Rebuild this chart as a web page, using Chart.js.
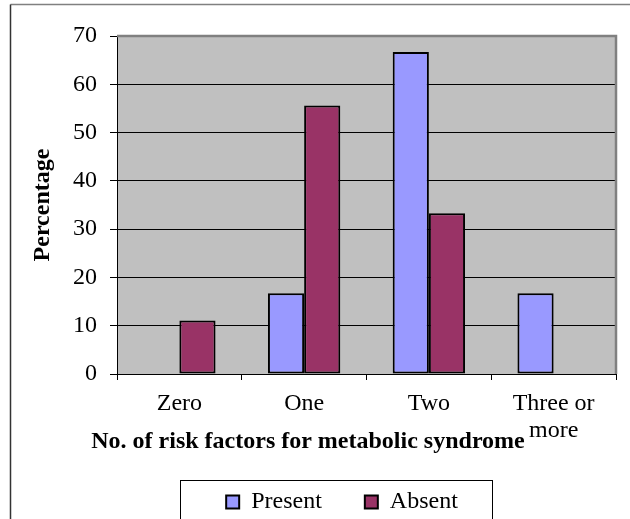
<!DOCTYPE html>
<html>
<head>
<meta charset="utf-8">
<script src="https://cdn.jsdelivr.net/npm/chart.js@4.4.1/dist/chart.umd.min.js"></script>
<style>
  html, body { margin: 0; padding: 0; background: #fff; }
  #wrap { width: 630px; height: 519px; }
</style>
</head>
<body>
<div id="wrap"><canvas id="riskChart" width="630" height="519"></canvas></div>
<script>
const categories = ['Zero', 'One', 'Two', ['Three or', 'more']];
const presentValues = [null, 16.7, 66.7, 16.7];
const absentValues = [11.1, 55.6, 33.3, null];
const yTicks = { min: 0, max: 70, step: 10 };

const serif = "'Liberation Serif', 'Times New Roman', serif";

// grey plot background, frame and the box round the legend
const decor = {
    id: 'decor',
    beforeDraw(chart) {
        const { ctx, chartArea: a } = chart;
        ctx.save();
        ctx.fillStyle = '#c0c0c0';
        ctx.fillRect(a.left, a.top, a.right - a.left, a.bottom - a.top);
        // outer frame (left + top visible)
        ctx.strokeStyle = '#808080';
        ctx.lineWidth = 1.5;
        ctx.beginPath();
        ctx.moveTo(630, 4.5);
        ctx.lineTo(10.5, 4.5);
        ctx.stroke();
        ctx.strokeStyle = '#333';
        ctx.beginPath();
        ctx.moveTo(10.5, 4.5);
        ctx.lineTo(10.5, 519);
        ctx.stroke();
        ctx.restore();
    },
    afterDatasetsDraw(chart) {
        const { ctx, chartArea: a } = chart;
        ctx.save();
        ctx.strokeStyle = '#808080';
        ctx.lineWidth = 2.5;
        ctx.beginPath();
        ctx.moveTo(a.left, a.top);
        ctx.lineTo(a.right, a.top);
        ctx.lineTo(a.right, a.bottom);
        ctx.stroke();
        ctx.restore();
    },
    afterLayout(chart) {
        // legend sits a bit right of the canvas centre in the original
        chart.legend.left += 34;
        chart.legend.right += 34;
    },
    afterDraw(chart) {
        const boxes = chart.legend.legendHitBoxes;
        if (!boxes || !boxes.length) return;
        const first = boxes[0], last = boxes[boxes.length - 1];
        const ctx = chart.ctx;
        ctx.save();
        ctx.strokeStyle = '#000';
        ctx.lineWidth = 1;
        const x0 = Math.round(first.left - 46) + 0.5;
        const x1 = Math.round(last.left + last.width + 34) + 0.5;
        const y0 = Math.round(first.top - 10) + 0.5;
        ctx.strokeRect(x0, y0, x1 - x0, 60);
        ctx.restore();
    }
};

new Chart(document.getElementById('riskChart'), {
    type: 'bar',
    data: {
        labels: categories,
        datasets: [{
            label: 'Present',
            data: presentValues,
            backgroundColor: '#9999ff',
            borderColor: '#000',
            borderWidth: 2,
            borderSkipped: false
        }, {
            label: 'Absent',
            data: absentValues,
            backgroundColor: '#993366',
            borderColor: '#000',
            borderWidth: 2,
            borderSkipped: false
        }]
    },
    options: {
        responsive: false,
        animation: false,
        layout: { padding: { top: 36, right: 14, left: 0, bottom: -5 } },
        datasets: { bar: { categoryPercentage: 0.58, barPercentage: 1 } },
        plugins: {
            tooltip: { enabled: false },
            title: {
                display: true,
                position: 'bottom',
                weight: 500,
                text: 'No. of risk factors for metabolic syndrome',
                color: '#000',
                font: { family: serif, size: 24, weight: 'bold', lineHeight: 1.2 },
                padding: { top: -18.4, bottom: -9.4 }
            },
            legend: {
                position: 'bottom',
                labels: {
                    color: '#000',
                    font: { family: serif, size: 24 },
                    boxWidth: 13,
                    boxHeight: 13,
                    padding: 43
                }
            }
        },
        scales: {
            x: {
                afterFit(scale) { scale.height = 72; },
                grid: { display: true, drawOnChartArea: false, offset: true, tickLength: 6, color: '#000' },
                border: { color: '#000', width: 1 },
                ticks: {
                    color: '#000',
                    padding: 11,
                    maxRotation: 0,
                    font: { family: serif, size: 24, lineHeight: 1.1 }
                }
            },
            y: {
                min: yTicks.min,
                max: yTicks.max,
                afterFit(scale) { scale.width = 117; },
                grid: {
                    color: ctx => ctx.tick && ctx.tick.value === yTicks.max ? 'rgba(0,0,0,0)' : '#000',
                    tickColor: '#000',
                    tickLength: 7,
                    lineWidth: 1
                },
                border: { color: '#000', width: 1 },
                ticks: {
                    stepSize: yTicks.step,
                    color: '#000',
                    padding: 13,
                    font: { family: serif, size: 24 }
                },
                title: {
                    display: true,
                    text: 'Percentage',
                    color: '#000',
                    font: { family: serif, size: 24, weight: 'bold', lineHeight: 1.2 },
                    padding: { top: 28, bottom: 0 }
                }
            }
        }
    },
    plugins: [decor]
});
</script>
</body>
</html>
